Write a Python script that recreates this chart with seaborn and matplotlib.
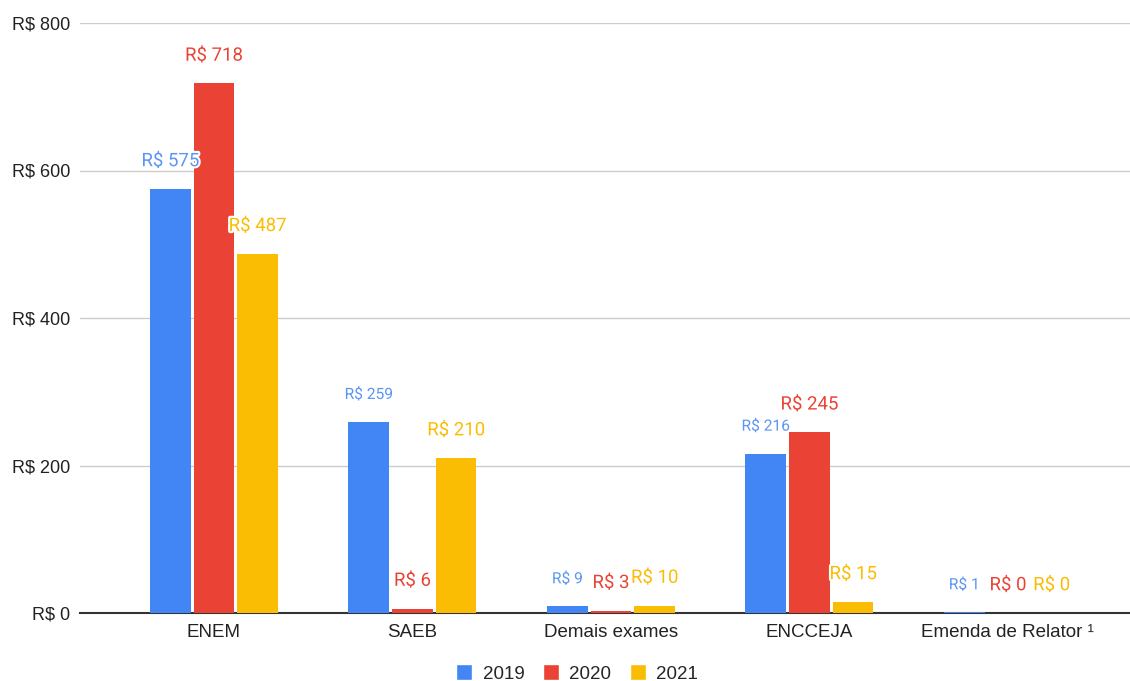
import pandas as pd
import matplotlib.pyplot as plt
import matplotlib.patheffects as pe
from matplotlib.lines import Line2D
import seaborn as sns

sns.set_style("white")
plt.rcParams['font.family'] = ['Liberation Sans', 'DejaVu Sans']

# dados
categorias = ["ENEM", "SAEB", "Demais exames", "ENCCEJA", "Emenda de Relator ¹"]
anos = ["2019", "2020", "2021"]
v2019 = [575, 259, 9, 216, 1]
v2020 = [718, 6, 3, 245, 0]
v2021 = [487, 210, 10, 15, 0]
cores = ["#4285F4", "#EA4335", "#FBBC04"]
cores_texto = ["#5B95F5", "#EA4335", "#FBBC04"]
# rótulos menores no original
rotulos_pequenos = {("2019", "SAEB"), ("2019", "Demais exames"),
                    ("2019", "ENCCEJA"), ("2019", "Emenda de Relator ¹")}

df = pd.DataFrame({
    "categoria": categorias * 3,
    "ano": [a for a in anos for _ in categorias],
    "valor": v2019 + v2020 + v2021,
})

fig = plt.figure(figsize=(11.3, 6.81), dpi=100)
ax = fig.add_axes([80 / 1130, 1 - 613 / 681, 1050 / 1130, 590 / 681])

sns.barplot(data=df, x="categoria", y="valor", hue="ano", palette=cores,
            width=0.66, gap=0.07, ax=ax, legend=False, saturation=1,
            linewidth=0)

ax.set_xlim(-0.675, 4.615)
ax.set_ylim(0, 800)
ax.set_yticks([0, 200, 400, 600, 800])
ax.set_yticklabels([f"R$ {v}" for v in [0, 200, 400, 600, 800]])
ax.grid(axis="y", color="#cccccc", linewidth=1)
ax.set_axisbelow(True)
for s in ["top", "right", "left"]:
    ax.spines[s].set_visible(False)
ax.spines["bottom"].set_color("#333333")
ax.spines["bottom"].set_linewidth(1.5)
ax.spines["bottom"].set_zorder(1)
for cont in ax.containers:
    for bar in cont:
        bar.set_zorder(3)
ax.tick_params(axis="both", length=0, colors="#222222")
ax.tick_params(axis="y", pad=7, labelsize=13)
ax.tick_params(axis="x", pad=8, labelsize=13.5)
ax.set_xlabel("")
ax.set_ylabel("")

for i, cont in enumerate(ax.containers):
    for j, bar in enumerate(cont):
        val = bar.get_height()
        pequeno = (anos[i], categorias[j]) in rotulos_pequenos
        ax.annotate(f"R$ {val:.0f}",
                    (bar.get_x() + bar.get_width() / 2, val),
                    xytext=(0, 20), textcoords="offset points",
                    ha="center", va="center", color=cores_texto[i],
                    fontsize=11.2 if pequeno else 13.4, family="Roboto",
                    path_effects=[pe.withStroke(linewidth=3, foreground="white")],
                    zorder=6)

handles = [Line2D([0], [0], marker="s", color="w", markerfacecolor=c,
                  markersize=11, linestyle="") for c in cores]
fig.legend(handles, anos, loc="center", bbox_to_anchor=(0.51, 1 - 674 / 681),
           ncol=3, frameon=False, fontsize=13.5, handletextpad=0.5,
           columnspacing=0.9, handlelength=1.0)

fig.savefig("out.png", dpi=100)
